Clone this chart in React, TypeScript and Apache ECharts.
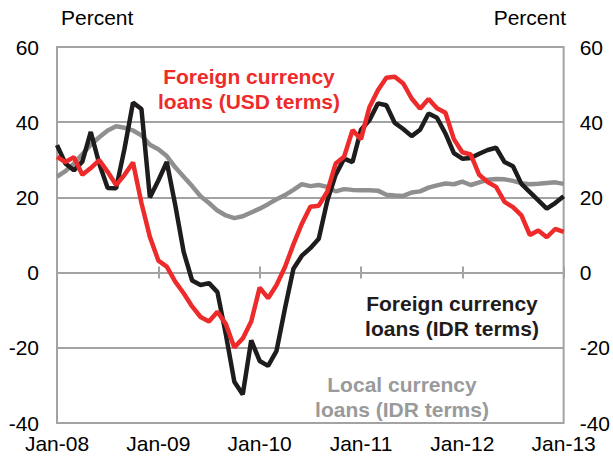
import React, { useEffect, useRef } from "react";
import * as echarts from "echarts";

const MONTHS = ["Jan", "Feb", "Mar", "Apr", "May", "Jun", "Jul", "Aug", "Sep", "Oct", "Nov", "Dec"];
const YEARS = ["08", "09", "10", "11", "12", "13"];
const categories: string[] = [];
YEARS.forEach((y, yi) => {
  MONTHS.forEach((m, mi) => {
    if (yi < YEARS.length - 1 || mi === 0) categories.push(`${m}-${y}`);
  });
});

const fxIdr = [
  33.9, 29, 27.2, 29.5, 37.4, 29, 22.5, 22.4, 33, 45.2, 43.5, 20,
  24.5, 29.4, 18, 5.5, -2.1, -3.3, -2.8, -5.2, -16.5, -29, -32.4, -18,
  -23.5, -24.8, -20.8, -9.5, 1, 4.5, 6.5, 9, 19, 26, 30.3, 29.4,
  38, 40.5, 45, 44.5, 39.8, 38.2, 36.3, 38, 42.3, 41.2, 37, 31.8,
  30.3, 30.5, 31.6, 32.6, 33.2, 29.4, 28.3, 23.6, 21.4, 19.2, 17, 18.5,
  20.3,
];

const fxUsd = [
  30.8, 29.4, 30.7, 26, 27.8, 29.9, 26.8, 23.3, 26, 29.3, 18.5, 9.5,
  3.2, 1.6, -2.4, -5.5, -9, -11.8, -13, -10.4, -13.7, -19.9, -17.5, -13,
  -4, -6.8, -3.3, 1.5, 7.5, 13, 17.5, 17.8, 21.5, 29, 30.8, 37.9,
  35.5, 44, 48.5, 51.8, 52.1, 50.3, 46.3, 43.6, 46.2, 43.7, 42.5, 35.5,
  32, 31.4, 26, 24.1, 22.8, 18.8, 17.4, 15.2, 10, 11.2, 9.4, 11.6,
  10.8,
];

const localIdr = [
  25.5, 27, 29, 31.5, 34, 36, 37.8, 38.9, 38.5, 37.8, 36.5, 34,
  32.8, 31, 28, 25.5, 23, 20.3, 18.5, 16.5, 15.2, 14.5, 15, 16,
  17, 18.2, 19.5, 20.6, 22, 23.5, 23, 23.3, 22.8, 21.6, 22.2, 22,
  21.9, 21.9, 21.8, 20.7, 20.5, 20.4, 21.3, 21.6, 22.6, 23.2, 23.7, 23.5,
  24.2, 23.3, 24, 24.7, 24.9, 24.8, 24.4, 23.8, 23.5, 23.6, 23.8, 24,
  23.6,
];

const Y_MIN = -40;
const Y_MAX = 60;
const Y_STEP = 20;

const FONT = "Liberation Sans, Arial, sans-serif";
const FS = 21;
const RED = "#ee2b2b";
const BLACK = "#1f1c1d";
const GREY = "#8f8f8f";
const GRID = "#a3a3a3";

export default function App() {
  const ref = useRef<HTMLDivElement>(null);
  useEffect(() => {
    document.body.style.margin = "0";
    if (!ref.current) return;
    const chart = echarts.init(ref.current, null, { renderer: "svg" });
    const yAxisCommon = {
      type: "value",
      min: Y_MIN,
      max: Y_MAX,
      interval: Y_STEP,
      axisLine: { show: false },
      axisTick: { show: false },
      splitLine: { show: true, lineStyle: { color: GRID, width: 2 } },
      axisLabel: { color: "#000", fontSize: FS, fontFamily: FONT, margin: 18 },
    };
    const tickAxis = (inside: boolean, showLine: boolean) => ({
      type: "category",
      data: categories,
      boundaryGap: false,
      position: "bottom",
      axisLine: { show: showLine, onZero: true, lineStyle: { color: GRID, width: 2 } },
      axisTick: { show: true, inside, length: 6, interval: 11, lineStyle: { color: GRID, width: 2 } },
      axisLabel: { show: false },
      splitLine: { show: false },
    });
    chart.setOption({
      animation: false,
      grid: {
        left: 57,
        right: 48,
        top: 47,
        bottom: 34,
        show: true,
        borderColor: GRID,
        borderWidth: 2,
        backgroundColor: "transparent",
      },
      xAxis: [
        {
          type: "category",
          data: categories,
          boundaryGap: false,
          position: "bottom",
          axisLine: { show: false, onZero: false },
          axisTick: { show: false },
          splitLine: { show: false },
          axisLabel: {
            interval: 11,
            color: "#000",
            fontSize: FS,
            fontFamily: FONT,
            margin: 10,
            showMaxLabel: true,
          },
        },
        tickAxis(false, true),
        tickAxis(true, false),
      ],
      yAxis: [
        { ...yAxisCommon, position: "left" },
        {
          ...yAxisCommon,
          position: "right",
          splitLine: { show: false },
          axisLabel: { ...yAxisCommon.axisLabel, margin: 16 },
        },
      ],
      series: [
        {
          name: "Local currency loans (IDR terms)",
          type: "line",
          data: localIdr,
          showSymbol: false,
          lineStyle: { color: GREY, width: 4.5 },
          z: 2,
        },
        {
          name: "Foreign currency loans (IDR terms)",
          type: "line",
          data: fxIdr,
          showSymbol: false,
          lineStyle: { color: BLACK, width: 4.5 },
          z: 3,
        },
        {
          name: "Foreign currency loans (USD terms)",
          type: "line",
          data: fxUsd,
          showSymbol: false,
          lineStyle: { color: RED, width: 4.5 },
          z: 4,
        },
      ],
      graphic: [
        {
          type: "text",
          left: 61,
          top: 7,
          style: { text: "Percent", fontSize: FS, fontFamily: FONT, fill: "#000" },
        },
        {
          type: "text",
          right: 47,
          top: 7,
          style: { text: "Percent", fontSize: FS, fontFamily: FONT, fill: "#000" },
        },
        {
          type: "text",
          x: 249,
          y: 89,
          style: {
            text: "Foreign currency\nloans (USD terms)",
            fontSize: FS,
            fontWeight: "bold",
            fontFamily: FONT,
            fill: RED,
            align: "center",
            verticalAlign: "middle",
            lineHeight: 25,
          },
        },
        {
          type: "text",
          x: 452,
          y: 316,
          style: {
            text: "Foreign currency\nloans (IDR terms)",
            fontSize: FS,
            fontWeight: "bold",
            fontFamily: FONT,
            fill: BLACK,
            align: "center",
            verticalAlign: "middle",
            lineHeight: 25,
          },
        },
        {
          type: "text",
          x: 402,
          y: 397,
          style: {
            text: "Local currency\nloans (IDR terms)",
            fontSize: FS,
            fontWeight: "bold",
            fontFamily: FONT,
            fill: "#9a9a9a",
            align: "center",
            verticalAlign: "middle",
            lineHeight: 25,
          },
        },
      ],
    });
    return () => chart.dispose();
  }, []);
  return <div ref={ref} style={{ width: 613, height: 457 }} />;
}
